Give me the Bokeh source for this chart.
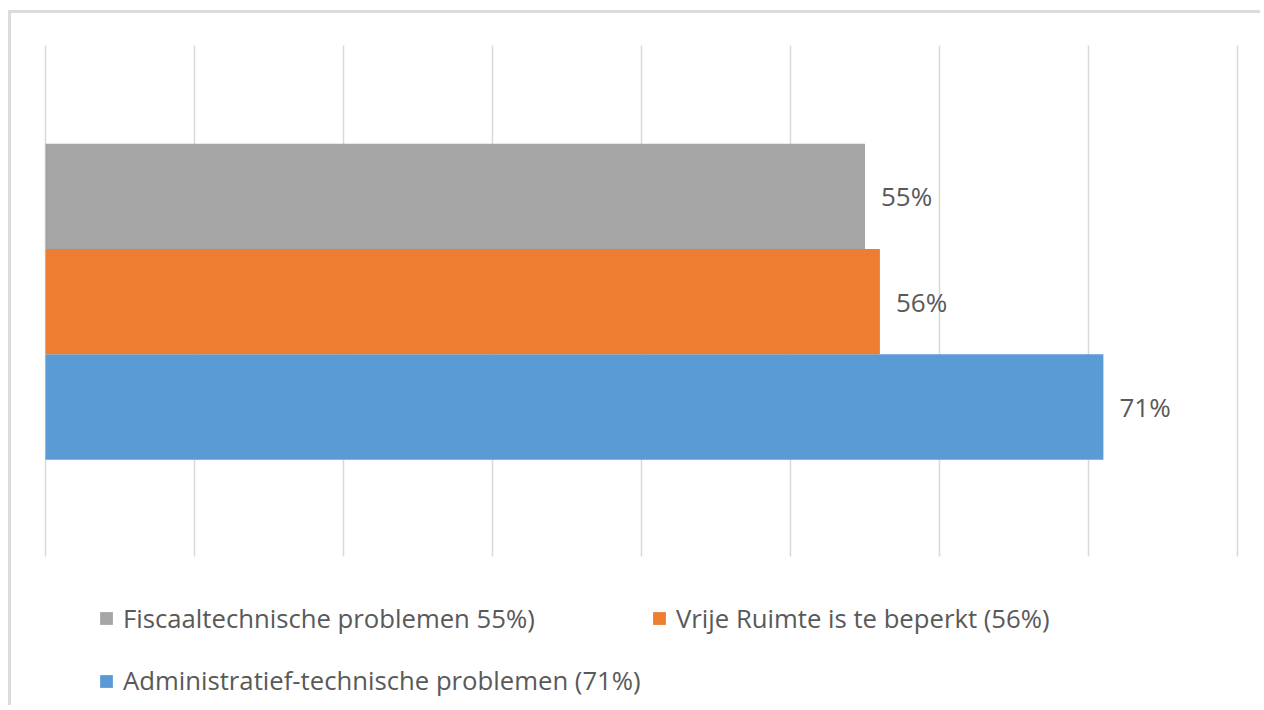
from bokeh.plotting import figure
from bokeh.models import Range1d, Legend, LegendItem, ColumnDataSource
from bokeh.core.properties import value
from bokeh.embed import file_html
from bokeh.resources import INLINE

# ---- data (bottom to top) ----
series = [
    "Administratief-technische problemen (71%)",
    "Vrije Ruimte is te beperkt (56%)",
    "Fiscaaltechnische problemen 55%)",
]
values = [71, 56, 55]
value_labels = ["71%", "56%", "55%"]
colors = ["#5B9BD5", "#ED7D31", "#A5A5A5"]
x_ticks = [0, 10, 20, 30, 40, 50, 60, 70, 80]

FONT = "Open Sans"
TEXT_COLOR = "#595959"

y_pos = list(range(len(series)))  # category slots, bottom to top

p = figure(
    width=1252, height=695,
    x_range=Range1d(-2.2819, 81.745),
    y_range=Range1d(-2.8624, 3.7356),
    output_backend="svg", toolbar_location=None,
    min_border_left=0, min_border_right=0, min_border_top=0, min_border_bottom=0,
)
p.styles = {
    "margin-left": "8px",
    "margin-top": "10px",
    "border-left": "3px solid #dcdcdc",
    "border-top": "3px solid #dcdcdc",
}
p.outline_line_color = None
p.background_fill_color = "white"
p.border_fill_color = "white"
p.xaxis.visible = False
p.yaxis.visible = False
p.xgrid.visible = False
p.ygrid.visible = False

# plot area (gridline extent) in its own normalized range 0..1
p.extra_y_ranges = {"area": Range1d(-0.2975, 1.0626)}
grid_src = ColumnDataSource(dict(x=x_ticks, y0=[0] * len(x_ticks), y1=[1] * len(x_ticks)))
p.segment(x0="x", x1="x", y0="y0", y1="y1", source=grid_src, y_range_name="area",
          line_color="#d9d9d9", line_width=1.5)

renderers = []
for yp, v, c in zip(y_pos, values, colors):
    src = ColumnDataSource(dict(y=[yp], right=[v]))
    r = p.hbar(y="y", left=0, right="right", height=1.0, source=src,
               fill_color=c, line_color=None)
    renderers.append(r)

lab_src = ColumnDataSource(dict(x=values, y=y_pos, t=value_labels))
p.text(x="x", y="y", text="t", source=lab_src, x_offset=16,
       text_baseline="middle", text_align="left",
       text_font=value(FONT), text_font_size="26px", text_color=TEXT_COLOR)

def make_legend(items, loc, lw):
    return Legend(items=items, location=loc, orientation="horizontal",
                  padding=0, margin=0, spacing=8,
                  glyph_width=16, glyph_height=16, label_standoff=9,
                  label_width=lw, label_height=37,
                  label_text_font=FONT, label_text_font_size="25.7px",
                  label_text_color=TEXT_COLOR,
                  border_line_color=None, background_fill_alpha=0)

leg1 = make_legend([LegendItem(label=series[2], renderers=[renderers[2]]),
                    LegendItem(label=series[1], renderers=[renderers[1]])], (87, 71.5), 520)
leg2 = make_legend([LegendItem(label=series[0], renderers=[renderers[0]])], (87, 9), 20)
p.add_layout(leg1, "center")
p.add_layout(leg2, "center")

open("out.html", "w").write(file_html(p, INLINE))
